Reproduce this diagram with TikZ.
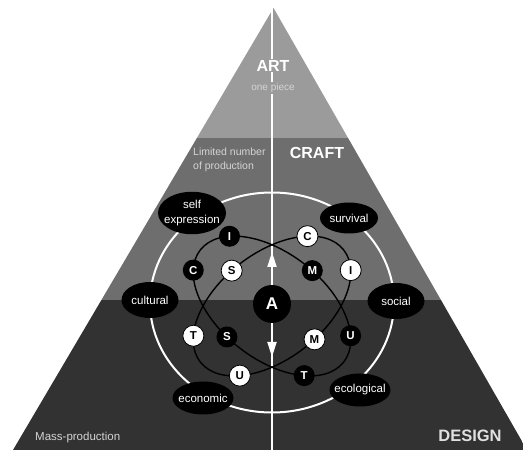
\documentclass[tikz,border=0pt]{standalone}
\usepackage{fontspec}
\setmainfont{Liberation Sans}
\usetikzlibrary{arrows.meta,shapes.geometric}
\definecolor{bandA}{RGB}{155,155,155}
\definecolor{bandB}{RGB}{110,110,110}
\definecolor{bandC}{RGB}{50,50,50}
\definecolor{paletext}{RGB}{212,212,212}
\begin{document}
\begin{tikzpicture}[x=1pt,y=1pt,
  lbl/.style={ellipse, fill=black, inner sep=0pt, text=white, font=\fontsize{11.5}{15}\selectfont},
  blk/.style={circle, fill=black, text=white, minimum size=21pt, inner sep=0pt, font=\fontsize{11.5}{12}\selectfont\bfseries},
  wht/.style={circle, fill=white, draw=black, line width=0.8pt, text=black, minimum size=21pt, inner sep=0pt, font=\fontsize{11.5}{12}\selectfont\bfseries},
  loopline/.style={draw=black, line width=1.4pt},
  whiteline/.style={draw=white, line width=1.8pt},
  arroww/.style={whiteline, -{Triangle[width=9pt,length=15pt]}},
  bigtitle/.style={font=\fontsize{16}{18}\selectfont\bfseries, text=white},
  smalltext/.style={text=paletext}]
\useasboundingbox (0,0) rectangle (523,450);
\clip (0,0) rectangle (523,450);
% pyramid
\coordinate (apex) at (273.5,442);
\coordinate (bl) at (13,0);
\coordinate (br) at (527,0);
\begin{scope}
  \clip (apex) -- (bl) -- (br) -- cycle;
  \fill[bandA] (0,312) rectangle (523,450);
  \fill[bandB] (0,150) rectangle (523,312);
  \fill[bandC] (0,0) rectangle (523,150);
\end{scope}
% vertical axis
\coordinate (axtop) at (272,442);
\coordinate (axbot) at (272,0);
\draw[whiteline] (axtop) -- (axbot);
% outer ring
\coordinate (ringc) at (272,147.5);
\draw[whiteline, line width=2pt] (ringc) ellipse [x radius=122, y radius=110];
% two tilted loops
\begin{scope}[shift={(272,144)}, rotate=-38]
  \draw[loopline] (0,0) ellipse [x radius=91, y radius=53];
  \path (147.1:91pt and 53pt) coordinate (pI1)
        (202.4:91pt and 53pt) coordinate (pC1)
        (259.6:91pt and 53pt) coordinate (pS1)
        (318.6:91pt and 53pt) coordinate (pT1)
        (28.1:91pt and 53pt) coordinate (pU1)
        (83.7:91pt and 53pt) coordinate (pM1);
\end{scope}
\begin{scope}[shift={(272,144)}, rotate=38]
  \draw[loopline] (0,0) ellipse [x radius=91, y radius=53];
  \path (38.8:91pt and 53pt) coordinate (pC2)
        (337.6:91pt and 53pt) coordinate (pI2)
        (96.3:91pt and 53pt) coordinate (pS2)
        (151.9:91pt and 53pt) coordinate (pT2)
        (221.4:91pt and 53pt) coordinate (pU2)
        (278.2:91pt and 53pt) coordinate (pM2);
\end{scope}
% centre node and arrows
\node[circle, fill=black, minimum size=38pt, inner sep=0pt, text=white,
      font=\fontsize{17}{20}\selectfont\bfseries] (A) at (272,146) {A};
\coordinate (upTip) at (272,198);
\coordinate (dnTip) at (272,93);
\draw[arroww] (A) -- (upTip);
\draw[arroww] (A) -- (dnTip);
% letter nodes
\node[blk] (bI) at (pI1) {I};
\node[blk] (bC) at (pC1) {C};
\node[blk] (bS) at (pS1) {S};
\node[blk] (bT) at (pT1) {T};
\node[blk] (bU) at (pU1) {U};
\node[blk] (bM) at (pM1) {M};
\node[wht] (wC) at (pC2) {C};
\node[wht] (wI) at (pI2) {I};
\node[wht] (wS) at (pS2) {S};
\node[wht] (wT) at (pT2) {T};
\node[wht] (wU) at (pU2) {U};
\node[wht] (wM) at (pM2) {M};
% value labels
\node[lbl, minimum width=68pt, minimum height=36pt] (selfexp) at (192,237)
  {\makebox[0pt]{\begin{tabular}{@{}c@{}}self\\expression\end{tabular}}};
\node[lbl, minimum width=58pt, minimum height=31pt] (survival) at (349,232) {\makebox[0pt]{survival}};
\node[lbl, minimum width=57pt, minimum height=36pt] (cultural) at (150,150) {\makebox[0pt]{cultural}};
\node[lbl, minimum width=57pt, minimum height=36pt] (social) at (396,149) {\makebox[0pt]{social}};
\node[lbl, minimum width=61pt, minimum height=33pt] (economic) at (203,52) {\makebox[0pt]{economic}};
\node[lbl, minimum width=61pt, minimum height=33pt] (ecological) at (360,60) {\makebox[0pt]{ecological}};
% level texts
\node[bigtitle, fill=bandA, inner sep=1pt] (art) at (273,384) {ART};
\node[smalltext, font=\fontsize{10}{12}\selectfont, fill=bandA, inner sep=1pt] (onepiece) at (273,362) {one piece};
\node[smalltext, font=\fontsize{10.5}{14}\selectfont, align=left, anchor=west, inner sep=0pt] (limited) at (193,290) {Limited number\\of production};
\node[bigtitle] (craft) at (317,297) {CRAFT};
\node[smalltext, font=\fontsize{11.5}{13}\selectfont, anchor=west, inner sep=0pt] (mass) at (35,12) {Mass-production};
\node[bigtitle, font=\fontsize{16.5}{18}\selectfont\bfseries, text=white!88!black] (design) at (470,14) {DESIGN};
\end{tikzpicture}
\end{document}
